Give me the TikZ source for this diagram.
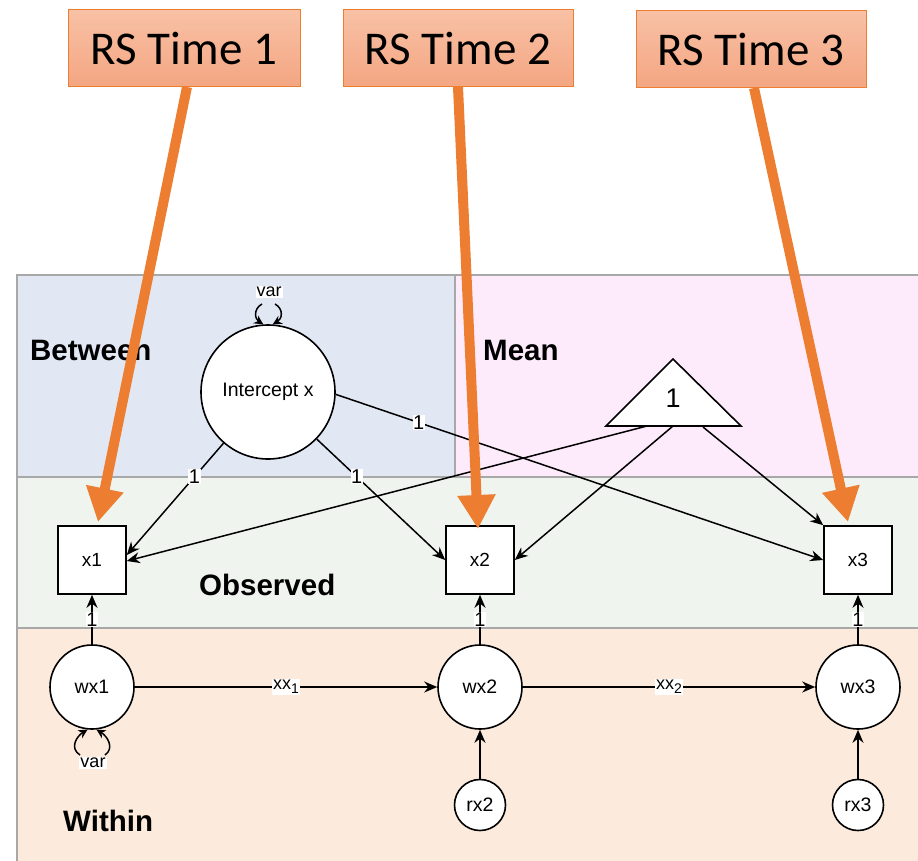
\documentclass[tikz,border=0pt]{standalone}
\usepackage{fontspec}
\setmainfont{Liberation Sans}
\newfontfamily\carlito{Carlito}
\usetikzlibrary{arrows.meta,calc}
\definecolor{rsorange}{HTML}{ED7D31}
\definecolor{rstop}{HTML}{F8C1A5}
\definecolor{rsbot}{HTML}{F4A682}
\definecolor{betweenfill}{HTML}{E1E8F4}
\definecolor{meanfill}{HTML}{FDEBFC}
\definecolor{obsfill}{HTML}{EFF5EE}
\definecolor{withinfill}{HTML}{FCEBDD}
\definecolor{panelline}{HTML}{A8A8A8}
\newcommand{\subone}[1]{xx\raisebox{-4pt}{\fontsize{14}{15}\selectfont #1}}
\begin{document}
\begin{tikzpicture}[x=1pt,y=-1pt,
  panel/.style={draw=panelline, line width=1.2pt},
  paneltitle/.style={anchor=west, inner sep=0pt, font=\fontsize{29.5}{31}\selectfont\bfseries},
  latent/.style={circle, draw, fill=white, line width=1.6pt, inner sep=0pt, font=\fontsize{19.5}{21}\selectfont},
  observed/.style={rectangle, draw, fill=white, line width=1.6pt, minimum size=68pt, inner sep=0pt, font=\fontsize{19}{21}\selectfont},
  regpath/.style={-{Stealth[length=13pt,width=11pt]}, line width=1.5pt},
  varloop/.style={-{Stealth[length=9pt,width=9pt]}, line width=1.5pt},
  edgelabel/.style={fill=white, inner sep=1pt, font=\fontsize{18}{19}\selectfont},
  onelabel/.style={fill=white, inner sep=0.5pt, font=\fontsize{20}{21}\selectfont},
  rsbox/.style={draw=rsorange, line width=1pt, top color=rstop, bottom color=rsbot,
    minimum height=77pt, inner sep=0pt, font=\carlito\fontsize{47}{50}\selectfont},
  rsarrow/.style={draw=rsorange, line width=10pt, -{Triangle[length=34pt,width=36pt]}, rsorange}
]
\useasboundingbox (0,0) rectangle (918,860);
\fill[white] (0,0) rectangle (918,860);

% panels
\draw[panel, fill=betweenfill] (17,275) rectangle (455,477);
\draw[panel, fill=meanfill] (455,275) rectangle (922,477);
\draw[panel, fill=obsfill] (17,477) rectangle (922,628);
\draw[panel, fill=withinfill] (17,628) rectangle (922,864);

\node[paneltitle] (tbetween) at (30,350) {Between};
\node[paneltitle] (tmean) at (483,350) {Mean};
\node[paneltitle] (tobs) at (199,585) {Observed};
\node[paneltitle] (twithin) at (63,821) {Within};

% variables
\node[latent, minimum size=134pt] (ic) at (268,392) {Intercept x};
\node[observed] (x1) at (92,560) {x1};
\node[observed] (x2) at (480,560) {x2};
\node[observed] (x3) at (858,560) {x3};
\node[latent, minimum size=84pt] (wx1) at (92,687) {wx1};
\node[latent, minimum size=84pt] (wx2) at (480,687) {wx2};
\node[latent, minimum size=84pt] (wx3) at (858,687) {wx3};
\node[latent, minimum size=51pt] (rx2) at (480,805) {rx2};
\node[latent, minimum size=51pt] (rx3) at (858,805) {rx3};

% mean triangle
\draw[fill=white, line width=1.6pt] (673,359) -- (741,426) -- (606,426) -- cycle;
\node[inner sep=0pt, font=\fontsize{27}{29}\selectfont] (one) at (673,398) {1};
\coordinate (triA) at (647,426);
\coordinate (triB) at (673,426);
\coordinate (triC) at (703,427);

% between loadings
\draw[regpath] (ic.229) -- node[onelabel, pos=0.3] {1} ($(x1.east)+(0,-5)$);
\draw[regpath] (ic.-44) -- node[onelabel, pos=0.31] {1} (x2.west);
\draw[regpath] (ic.-2) -- node[onelabel, pos=0.17] {1} (x3.west);

% means
\draw[regpath] (triA) -- ($(x1.east)+(0,1)$);
\draw[regpath] (triB) -- (x2.east);
\draw[regpath] (triC) -- (x3.north west);

% within part
\draw[regpath] (wx1) -- node[onelabel] {1} (x1);
\draw[regpath] (wx2) -- node[onelabel] {1} (x2);
\draw[regpath] (wx3) -- node[onelabel] {1} (x3);
\draw[regpath] (wx1) -- node[edgelabel] {\subone{1}} (wx2);
\draw[regpath] (wx2) -- node[edgelabel] {\subone{2}} (wx3);
\draw[regpath] (rx2) -- (wx2);
\draw[regpath] (rx3) -- (wx3);

% variances
\coordinate (icvL) at (262,304);
\coordinate (icvR) at (275,304);
\draw[varloop] (icvL) .. controls (253,309) and (255,319) .. (ic.94);
\draw[varloop] (icvR) .. controls (284,309) and (282,319) .. (ic.86);
\node[edgelabel] (icvar) at (269,292) {var};

\coordinate (wvL) at (80,755);
\coordinate (wvR) at (105,755);
\draw[varloop] (wvL) .. controls (69,748) and (77,736) .. (wx1.-96);
\draw[varloop] (wvR) .. controls (115,748) and (107,736) .. (wx1.-84);
\node[edgelabel] (wvar) at (93,763) {var};

% annotation boxes and arrows
\node[rsbox, minimum width=232pt] (rs1) at (184,48) {RS Time 1};
\node[rsbox, minimum width=230pt] (rs2) at (458,48) {RS Time 2};
\node[rsbox, minimum width=230pt] (rs3) at (751,49) {RS Time 3};
\coordinate (t1) at (98,522);
\coordinate (t2) at (478,529);
\coordinate (t3) at (848,522);
\draw[rsarrow] ($(rs1.south)+(3,0)$) -- (t1);
\draw[rsarrow] (rs2.south) -- (t2);
\draw[rsarrow] ($(rs3.south)+(3,0)$) -- (t3);
\end{tikzpicture}
\end{document}
